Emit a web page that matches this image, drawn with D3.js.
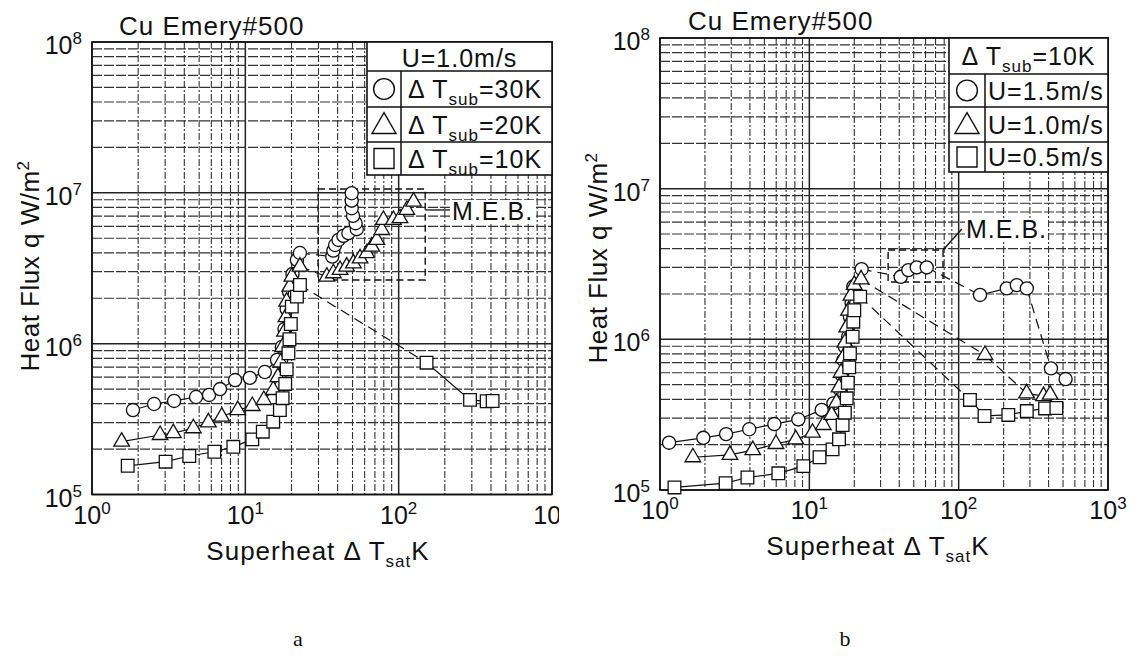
<!DOCTYPE html>
<html>
<head>
<meta charset="utf-8">
<script src="https://cdn.jsdelivr.net/npm/d3@7/dist/d3.min.js"></script>
<style>
  body { margin: 0; background: #fff; }
  text { font-family: "Liberation Sans", Arial, sans-serif; fill: #111; }
</style>
</head>
<body>
<svg id="chart" width="1138" height="656"></svg>
<script>
// Boiling curves, Cu Emery#500. Each series is a list of runs: points inside a run
// are joined by solid lines, consecutive runs by a dashed line.

const xDomain = [1, 1000];
const yDomain = [1e5, 1e8];
const xDecades = [1, 10, 100, 1000];
const yDecades = [1e5, 1e6, 1e7, 1e8];

// (a) U = 1.0 m/s
const aSub30 = [
  [[1.85, 3.63e5], [2.54, 3.98e5], [3.43, 4.17e5], [4.77, 4.43e5], [5.8, 4.57e5], [6.84, 5.0e5],
   [8.57, 5.74e5], [10.7, 5.93e5], [13.4, 6.49e5], [16.1, 7.8e5], [17.3, 9.5e5], [18.0, 1.25e6],
   [18.6, 1.7e6], [19.3, 2.2e6], [20.3, 2.9e6], [21.7, 3.59e6], [22.7, 3.99e6]],
  [[36.9, 3.78e6], [37.5, 4.14e6], [38.5, 4.51e6], [40.5, 4.87e6], [43.6, 5.18e6], [47, 5.4e6],
   [53.3, 5.74e6], [52.4, 6.29e6], [50.4, 7.03e6], [49.4, 7.9e6], [49.4, 8.87e6], [49.4, 9.94e6]]
];
const aSub20 = [
  [[1.56, 2.24e5], [2.78, 2.48e5], [3.39, 2.55e5], [4.58, 2.75e5], [5.74, 3.01e5], [7.02, 3.28e5],
   [8.92, 3.63e5], [11.1, 3.86e5], [13.2, 4.23e5], [15.2, 4.93e5], [16.3, 6.0e5], [17.0, 7.5e5],
   [17.5, 9.5e5], [18.0, 1.2e6], [18.4, 1.5e6], [18.6, 1.9e6], [19.5, 2.39e6], [20.1, 2.78e6], [22.7, 3.24e6]],
  [[34, 2.78e6], [37.5, 2.93e6], [41.5, 3.08e6], [45.8, 3.24e6], [50.7, 3.41e6], [56, 3.68e6],
   [62, 3.98e6], [66.8, 4.4e6], [72, 4.87e6], [77.6, 5.67e6], [79.5, 6.61e6], [92.4, 6.61e6],
   [102, 6.79e6], [113, 7.7e6], [125, 8.74e6]]
];
const aSub10 = [
  [[1.71, 1.55e5], [3.02, 1.65e5], [4.31, 1.8e5], [6.28, 1.92e5], [8.35, 2.07e5], [11.1, 2.32e5],
   [13.0, 2.61e5], [15.2, 3.04e5], [16.8, 3.63e5], [17.5, 4.35e5], [18.2, 5.41e5], [18.6, 6.77e5],
   [19.1, 8.63e5], [19.4, 1.07e6], [19.8, 1.35e6], [20.1, 1.76e6], [21.7, 2.05e6], [22.7, 2.45e6]],
  [[152, 7.48e5], [292, 4.24e5], [375, 4.15e5], [410, 4.17e5]]
];

// (b) ΔTsub = 10 K
const bU15 = [
  [[1.15, 2.06e5], [1.95, 2.22e5], [2.77, 2.35e5], [3.96, 2.53e5], [5.83, 2.74e5], [8.44, 2.94e5],
   [12.1, 3.4e5], [14.5, 3.76e5], [16.1, 4.61e5], [16.5, 5.8e5], [16.9, 7.29e5], [17.3, 8.93e5],
   [18.2, 1.04e6], [18.7, 1.41e6], [19.2, 1.73e6], [19.7, 2.24e6], [22.4, 2.92e6]],
  [[40.9, 2.6e6], [46, 2.88e6], [52.4, 3.0e6], [61.1, 3.0e6]],
  [[139, 1.97e6], [210, 2.18e6], [245, 2.29e6], [286, 2.18e6]],
  [[415, 6.42e5], [520, 5.45e5]]
];
const bU10 = [
  [[1.66, 1.65e5], [2.94, 1.71e5], [4.18, 1.84e5], [5.98, 2.02e5], [8.11, 2.17e5], [10.5, 2.4e5],
   [12.4, 2.7e5], [14.1, 3.15e5], [15.2, 3.8e5], [15.8, 4.8e5], [16.3, 6.0e5], [16.8, 7.5e5],
   [17.3, 9.5e5], [17.8, 1.2e6], [18.3, 1.55e6], [19.0, 1.95e6], [20.0, 2.3e6], [22.2, 2.5e6]],
  [[150, 7.87e5]],
  [[285, 4.38e5], [370, 4.2e5], [410, 4.3e5]]
];
const bU05 = [
  [[1.25, 1.04e5], [2.75, 1.11e5], [3.85, 1.21e5], [6.2, 1.29e5], [9.12, 1.44e5], [11.7, 1.65e5],
   [14.3, 1.86e5], [15.8, 2.17e5], [16.7, 2.7e5], [17.3, 3.26e5], [17.8, 4.06e5], [18.1, 5.15e5],
   [18.5, 6.52e5], [18.7, 8.07e5], [19.5, 1.04e6], [19.7, 1.31e6], [20.0, 1.56e6], [21.9, 1.92e6]],
  [[119, 3.96e5], [149, 3.1e5], [215, 3.15e5], [286, 3.34e5], [379, 3.48e5], [451, 3.5e5]]
];

// M.E.B. annotation boxes [[x0, y0], [x1, y1]], leader [[from], [to]], label anchor
const aMebBox = [[29.8, 2.64e6], [149, 1.06e7]];
const aMebLeader = [[149, 7.7e6], [216, 7.7e6]];
const aMebLabel = [223, 6.6e6];
const bMebBox = [[33.7, 2.4e6], [78.6, 3.92e6]];
const bMebLeader = [[78.6, 3.92e6], [105, 5.4e6]];
const bMebLabel = [112, 4.7e6];

const aLegendTitle = "U=1.0m/s";
const aLegendItems = [["circle", "30K"], ["triangle", "20K"], ["square", "10K"]];
const bLegendTitle = "10K";
const bLegendItems = [["circle", "U=1.5m/s"], ["triangle", "U=1.0m/s"], ["square", "U=0.5m/s"]];

const svg = d3.select("#chart");

const symbolTypes = {
  circle: d3.symbolCircle,
  triangle: d3.symbolTriangle,
  square: d3.symbolSquare
};

function isDecade(v) {
  const l = Math.log10(v);
  return Math.abs(l - Math.round(l)) < 1e-9;
}

function powerLabel(sel, exp, subSize) {
  sel.append("tspan").text("10");
  sel.append("tspan").attr("dy", -10).attr("font-size", subSize).text(exp);
}

function deltaT(sel, sub, rest, size) {
  sel.append("tspan").text("\u0394 T");
  sel.append("tspan").attr("dy", 7).attr("font-size", size).text(sub);
  sel.append("tspan").attr("dy", -7).text(rest);
}

function drawPanel(p) {
  const x = d3.scaleLog().domain(xDomain).range([p.left, p.right]);
  const y = d3.scaleLog().domain(yDomain).range([p.bottom, p.top]);
  const g = svg.append("g");

  // grid: decades solid, the rest broken
  g.append("g").selectAll("line")
    .data(x.ticks())
    .join("line")
    .attr("x1", d => x(d)).attr("x2", d => x(d))
    .attr("y1", p.top).attr("y2", p.bottom)
    .attr("stroke", d => isDecade(d) ? "#222" : "#333")
    .attr("stroke-width", d => isDecade(d) ? 1.5 : 1.1)
    .attr("stroke-dasharray", d => isDecade(d) ? null : "7 2 2 2");

  g.append("g").selectAll("line")
    .data(y.ticks())
    .join("line")
    .attr("x1", p.left).attr("x2", p.right)
    .attr("y1", d => y(d)).attr("y2", d => y(d))
    .attr("stroke", d => isDecade(d) ? "#222" : "#333")
    .attr("stroke-width", d => isDecade(d) ? 1.5 : 1.2)
    .attr("stroke-dasharray", d => isDecade(d) ? null : "10 2");

  g.append("rect")
    .attr("x", p.left).attr("y", p.top)
    .attr("width", p.right - p.left).attr("height", p.bottom - p.top)
    .attr("fill", "none").attr("stroke", "#111").attr("stroke-width", 1.6);

  // tick labels
  const xl = g.append("g");
  if (p.clipRight) {
    svg.append("clipPath").attr("id", p.id + "-clip")
      .append("rect").attr("x", 0).attr("y", 0).attr("width", p.clipRight).attr("height", 656);
    xl.attr("clip-path", `url(#${p.id}-clip)`);
  }
  xDecades.forEach(v => {
    xl.append("text")
      .attr("x", x(v)).attr("y", p.bottom + 29)
      .attr("text-anchor", "middle").attr("font-size", 25)
      .call(powerLabel, Math.round(Math.log10(v)), 17);
  });
  yDecades.forEach(v => {
    g.append("text")
      .attr("x", p.left - 10).attr("y", y(v) + 12)
      .attr("text-anchor", "end").attr("font-size", 25)
      .call(powerLabel, Math.round(Math.log10(v)), 17);
  });

  // title and axis titles
  g.append("text")
    .attr("x", p.titleX).attr("y", p.titleY)
    .attr("font-size", 26).attr("letter-spacing", 1)
    .text("Cu Emery#500");

  const yt = g.append("text")
    .attr("transform", `translate(${p.yTitleX},${p.yTitleY}) rotate(-90)`)
    .attr("text-anchor", "middle").attr("font-size", 26).attr("letter-spacing", 0.5);
  yt.append("tspan").text("Heat Flux q W/m");
  yt.append("tspan").attr("dy", -10).attr("font-size", 17).text("2");

  const xt = g.append("text")
    .attr("x", p.xTitleX).attr("y", p.xTitleY)
    .attr("text-anchor", "middle").attr("font-size", 26).attr("letter-spacing", 1);
  xt.append("tspan").text("Superheat \u0394 T");
  xt.append("tspan").attr("dy", 7).attr("font-size", 17).text("sat");
  xt.append("tspan").attr("dy", -7).text("K");

  // M.E.B. box and label
  g.append("rect")
    .attr("x", x(p.meb.box[0][0])).attr("y", y(p.meb.box[1][1]))
    .attr("width", x(p.meb.box[1][0]) - x(p.meb.box[0][0]))
    .attr("height", y(p.meb.box[0][1]) - y(p.meb.box[1][1]))
    .attr("fill", "none").attr("stroke", "#111").attr("stroke-width", 1.4)
    .attr("stroke-dasharray", "7 4");
  g.append("line")
    .attr("x1", x(p.meb.leader[0][0])).attr("y1", y(p.meb.leader[0][1]))
    .attr("x2", x(p.meb.leader[1][0])).attr("y2", y(p.meb.leader[1][1]))
    .attr("stroke", "#111").attr("stroke-width", 1.3);
  const mebBg = g.append("rect").attr("fill", "#fff");
  const mebText = g.append("text")
    .attr("x", x(p.meb.label[0])).attr("y", y(p.meb.label[1]))
    .attr("font-size", 25).attr("letter-spacing", 1)
    .text("M.E.B.");
  const bb = mebText.node().getBBox();
  mebBg.attr("x", bb.x - 1).attr("y", bb.y + 3)
    .attr("width", bb.width + 2).attr("height", bb.height - 6);

  // data series
  p.series.forEach(s => {
    const sg = g.append("g");
    s.runs.forEach((run, i) => {
      sg.append("path")
        .datum(run)
        .attr("fill", "none").attr("stroke", "#111").attr("stroke-width", 1.2)
        .attr("d", d3.line().x(d => x(d[0])).y(d => y(d[1])));
      if (i > 0) {
        const a = s.runs[i - 1][s.runs[i - 1].length - 1];
        const b = run[0];
        sg.append("line")
          .attr("x1", x(a[0])).attr("y1", y(a[1]))
          .attr("x2", x(b[0])).attr("y2", y(b[1]))
          .attr("stroke", "#111").attr("stroke-width", 1.2)
          .attr("stroke-dasharray", "10 6");
      }
    });
    sg.selectAll("path.pt")
      .data(s.runs.flat())
      .join("path")
      .attr("class", "pt")
      .attr("transform", d => `translate(${x(d[0])},${y(d[1])})`)
      .attr("d", d3.symbol(symbolTypes[s.shape], s.shape === "triangle" ? 105 : (s.shape === "square" ? 160 : 135)))
      .attr("fill", "#fff").attr("stroke", "#111").attr("stroke-width", 1.3);
  });

  // legend
  const L = p.legend;
  const lg = g.append("g");
  lg.append("rect")
    .attr("x", L.x0).attr("y", p.top)
    .attr("width", p.right - L.x0).attr("height", L.rows[3] - p.top)
    .attr("fill", "#fff").attr("stroke", "#111").attr("stroke-width", 1.6);
  L.rows.slice(0, 3).forEach(r => {
    lg.append("line").attr("x1", L.x0).attr("x2", p.right).attr("y1", r).attr("y2", r)
      .attr("stroke", "#111").attr("stroke-width", 1.5);
  });
  lg.append("line").attr("x1", L.div).attr("x2", L.div).attr("y1", L.rows[0]).attr("y2", L.rows[3])
    .attr("stroke", "#111").attr("stroke-width", 1.5);

  const head = lg.append("text")
    .attr("x", (L.x0 + p.right) / 2).attr("y", L.headY)
    .attr("text-anchor", "middle").attr("font-size", 25).attr("letter-spacing", 1);
  if (L.headIsDelta) head.call(deltaT, "sub", "=" + L.title, 17);
  else head.text(L.title);

  L.items.forEach((it, i) => {
    const cy = (L.rows[i] + L.rows[i + 1]) / 2;
    const size = it[0] === "circle" ? 340 : (it[0] === "triangle" ? 250 : 400);
    lg.append("path")
      .attr("transform", `translate(${(L.x0 + L.div) / 2},${cy + (it[0] === "triangle" ? 2 : 0)})`)
      .attr("d", d3.symbol(symbolTypes[it[0]], size))
      .attr("fill", "#fff").attr("stroke", "#111").attr("stroke-width", 1.4);
    const t = lg.append("text")
      .attr("x", L.textX).attr("y", cy + 9)
      .attr("font-size", 25).attr("letter-spacing", 1);
    if (L.itemsAreDelta) t.call(deltaT, "sub", "=" + it[1], 17);
    else t.text(it[1]);
  });
}

drawPanel({
  id: "a", left: 92, right: 552, top: 42, bottom: 494.5, clipRight: 559,
  titleX: 119, titleY: 35, yTitleX: 39, yTitleY: 266, xTitleX: 318, xTitleY: 560,
  meb: { box: aMebBox, leader: aMebLeader, label: aMebLabel },
  series: [
    { shape: "circle", runs: aSub30 },
    { shape: "triangle", runs: aSub20 },
    { shape: "square", runs: aSub10 }
  ],
  legend: {
    x0: 367, div: 401, rows: [71, 107, 142, 175], headY: 67, textX: 408,
    title: aLegendTitle, headIsDelta: false, items: aLegendItems, itemsAreDelta: true
  }
});

drawPanel({
  id: "b", left: 660, right: 1108, top: 38, bottom: 490,
  titleX: 688, titleY: 30, yTitleX: 607, yTitleY: 258, xTitleX: 878, xTitleY: 555,
  meb: { box: bMebBox, leader: bMebLeader, label: bMebLabel },
  series: [
    { shape: "circle", runs: bU15 },
    { shape: "triangle", runs: bU10 },
    { shape: "square", runs: bU05 }
  ],
  legend: {
    x0: 949, div: 985, rows: [74, 107, 142, 172], headY: 65, textX: 988,
    title: bLegendTitle, headIsDelta: true, items: bLegendItems, itemsAreDelta: false
  }
});

// panel letters
svg.append("text").attr("x", 298).attr("y", 646).attr("text-anchor", "middle")
  .style("font-family", "'Liberation Serif', 'Times New Roman', serif").attr("font-size", 22).text("a");
svg.append("text").attr("x", 845).attr("y", 646).attr("text-anchor", "middle")
  .style("font-family", "'Liberation Serif', 'Times New Roman', serif").attr("font-size", 22).text("b");
</script>
</body>
</html>
